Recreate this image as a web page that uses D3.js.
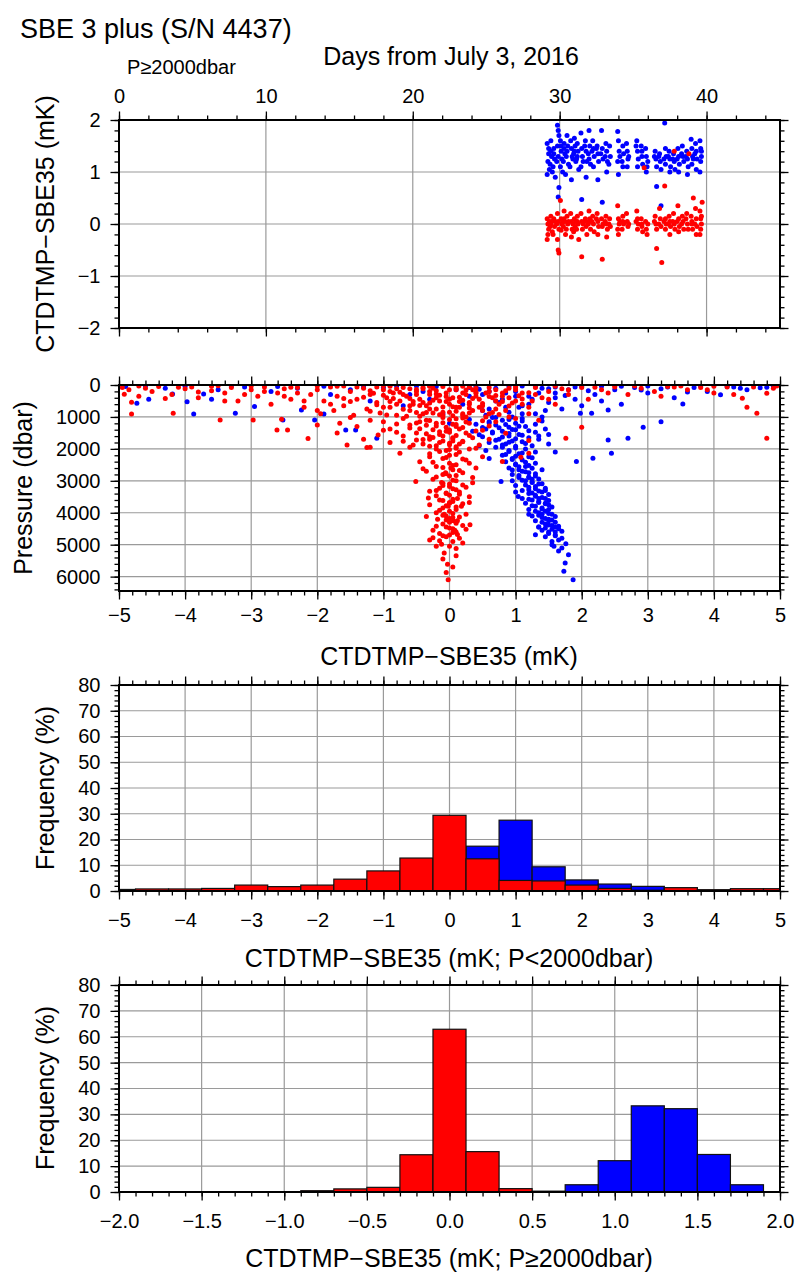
<!DOCTYPE html>
<html>
<head>
<meta charset="utf-8">
<script src="https://cdn.jsdelivr.net/npm/d3@7"></script>
<style>
body { margin: 0; background: #fff; }
svg text { font-family: "Liberation Sans", Arial, Helvetica, sans-serif; fill: #000; }
</style>
</head>
<body>
<svg id="chart" width="798" height="1273"></svg>
<script>
// SBE 3 plus (S/N 4437) comparison with SBE35

// DATA ------------------------------------------
// top panel: [days from July 3 2016, CTDTMP-SBE35 mK], P >= 2000 dbar
const timeBlue = [
  [29.15,1.55],[29.25,1.35],[29.2,1.2],[29.3,1.05],[29.15,0.95],[29.25,1.45],
  [29.4,1.6],[29.45,1.3],[29.35,1.15],[29.5,1.0],[29.4,1.4],
  [29.6,1.45],[29.65,1.25],[29.55,1.1],[29.7,0.9],[29.6,1.35],
  [29.85,1.9],[29.9,1.8],[29.95,1.7],[29.85,1.5],[29.9,1.3],[29.95,0.7],[29.9,0.52],[29.8,1.2],
  [30.05,1.6],[30.1,1.4],[30.15,1.25],[30.05,1.1],[30.2,1.0],[30.1,1.5],
  [30.3,1.55],[30.35,1.35],[30.25,1.2],[30.4,0.95],[30.3,1.45],
  [30.5,1.7],[30.55,1.5],[30.45,1.3],[30.6,1.15],[30.5,1.4],
  [30.75,1.6],[30.8,1.45],[30.85,1.3],[30.7,1.1],[30.8,0.85],[30.9,1.25],
  [31.0,1.65],[31.05,1.5],[30.95,1.35],[31.1,1.2],[31.0,1.4],
  [31.2,1.55],[31.25,1.4],[31.15,1.25],[31.3,1.05],[31.2,1.3],
  [31.45,1.75],[31.5,1.45],[31.55,1.3],[31.45,1.1],[31.5,0.47],[31.6,1.2],
  [31.75,1.6],[31.8,1.4],[31.85,1.2],[31.8,0.9],[31.7,1.5],
  [32.0,1.8],[32.05,1.5],[31.95,1.35],[32.1,1.15],[32.0,1.25],
  [32.25,1.6],[32.3,1.45],[32.35,1.3],[32.3,1.1],[32.2,1.4],
  [32.55,1.5],[32.6,1.35],[32.65,1.2],[32.6,0.85],[32.5,1.45],
  [32.85,1.8],[32.9,1.45],[32.95,1.25],[32.9,0.42],[32.8,1.35],
  [33.15,1.55],[33.2,1.4],[33.25,1.2],[33.2,1.0],[33.1,1.3],
  [33.4,1.5],[33.45,1.3],[33.35,1.15],
  [33.95,1.78],[34.0,1.6],[34.05,1.4],[33.95,1.2],[34.0,0.95],[34.1,1.3],
  [34.3,1.5],[34.35,1.35],[34.25,1.2],[34.3,1.1],
  [34.55,1.55],[34.6,1.4],[34.65,1.25],[34.6,1.1],[34.7,1.3],
  [35.25,1.6],[35.3,1.4],[35.35,1.25],[35.3,1.1],[35.2,1.5],
  [35.55,1.5],[35.6,1.3],[35.65,1.15],[35.6,1.4],
  [35.85,1.45],[35.9,1.3],[35.95,1.1],[35.9,1.0],[36.0,1.2],
  [36.5,1.4],[36.55,1.25],[36.6,1.1],[36.6,0.72],[36.45,1.3],
  [36.8,1.35],[36.85,1.2],[36.9,1.05],[36.9,0.35],[36.75,1.3],
  [37.15,1.94],[37.2,1.45],[37.25,1.3],[37.2,1.15],[37.1,1.25],
  [37.45,1.4],[37.5,1.25],[37.55,1.1],[37.5,1.0],[37.4,1.3],
  [37.75,1.35],[37.8,1.2],[37.85,1.05],[37.7,1.25],
  [38.05,1.45],[38.1,1.3],[38.15,1.15],[38.1,1.0],[38.0,1.25],
  [38.35,1.5],[38.4,1.3],[38.45,1.2],[38.3,1.35],
  [38.65,1.4],[38.7,1.25],[38.75,1.1],[38.7,0.95],[38.6,1.3],
  [38.95,1.63],[39.0,1.45],[39.05,1.3],[39.0,1.15],[39.1,1.25],
  [39.25,1.55],[39.3,1.4],[39.35,1.25],[39.3,1.05],[39.2,1.35],
  [39.55,1.6],[39.6,1.45],[39.65,1.3],[39.6,1.2],[39.55,1.0],[39.65,1.4]
];

const timeRed = [
  [29.15,0.1],[29.2,0.0],[29.25,-0.1],[29.2,-0.2],[29.15,-0.3],[29.3,0.05],
  [29.4,0.15],[29.45,0.05],[29.35,-0.05],[29.5,-0.15],[29.4,0.0],
  [29.6,0.1],[29.65,-0.05],[29.55,-0.2],[29.7,0.05],
  [29.85,0.2],[29.9,0.05],[29.95,-0.1],[29.85,-0.3],[29.9,-0.5],[29.95,-0.56],[29.8,0.0],
  [30.05,0.45],[30.1,0.1],[30.15,0.0],[30.1,-0.12],[30.2,0.05],
  [30.3,0.25],[30.35,0.05],[30.25,-0.05],[30.4,-0.2],[30.3,0.1],
  [30.5,0.15],[30.55,0.0],[30.45,-0.1],[30.6,0.05],
  [30.75,0.2],[30.8,0.05],[30.85,-0.1],[30.8,-0.25],[30.9,0.0],
  [31.0,0.1],[31.05,-0.05],[30.95,-0.15],[31.1,0.05],
  [31.2,0.15],[31.25,0.0],[31.15,-0.1],[31.3,-0.3],[31.2,0.05],
  [31.45,0.2],[31.5,0.05],[31.55,-0.1],[31.5,-0.63],[31.6,0.0],
  [31.75,0.1],[31.8,-0.05],[31.85,-0.2],[31.7,0.05],
  [32.0,0.25],[32.05,0.1],[31.95,0.0],[32.1,-0.1],[32.0,0.05],
  [32.25,0.15],[32.3,0.0],[32.35,-0.15],[32.2,0.05],
  [32.55,0.2],[32.6,0.05],[32.65,-0.05],[32.6,-0.2],[32.5,0.1],
  [32.85,0.1],[32.9,-0.05],[32.9,-0.68],[32.95,0.0],
  [33.15,0.15],[33.2,0.0],[33.25,-0.1],[33.2,-0.25],[33.1,0.05],
  [33.4,0.1],[33.45,-0.05],[33.35,0.0],
  [33.95,0.35],[34.0,0.1],[34.05,0.0],[33.95,-0.1],[34.0,-0.2],[34.1,0.05],
  [34.3,0.15],[34.35,0.0],[34.25,-0.1],[34.3,0.05],
  [34.55,0.2],[34.6,0.05],[34.65,-0.05],[34.7,0.0],
  [35.25,0.25],[35.3,0.1],[35.35,0.0],[35.3,-0.1],[35.2,0.05],
  [35.55,0.1],[35.6,-0.05],[35.65,-0.15],[35.6,0.0],
  [35.75,1.08],
  [35.85,0.05],[35.9,-0.1],[35.95,-0.2],[36.0,0.0],
  [36.5,0.15],[36.55,0.0],[36.6,-0.1],[36.6,-0.47],[36.45,0.05],
  [36.8,0.3],[36.85,0.1],[36.9,-0.05],[36.95,-0.74],[36.75,0.0],
  [37.15,0.73],[37.2,0.1],[37.25,0.0],[37.2,-0.1],[37.1,0.05],
  [37.45,0.15],[37.5,0.05],[37.55,-0.05],[37.5,-0.2],[37.4,0.0],
  [37.8,1.4],[37.75,0.2],[37.8,0.0],[37.85,-0.1],[37.7,0.05],
  [38.05,0.35],[38.1,0.1],[38.15,-0.05],[38.1,-0.15],[38.0,0.05],
  [38.35,0.15],[38.4,0.05],[38.45,-0.1],[38.3,0.0],
  [38.8,1.35],[38.65,0.2],[38.7,0.0],[38.75,-0.1],[38.6,0.1],
  [39.1,0.5],[38.95,0.15],[39.0,0.05],[39.05,-0.1],[39.0,0.0],
  [39.25,0.3],[39.3,0.1],[39.35,-0.05],[39.3,-0.2],[39.2,0.0],
  [39.7,0.42],[39.55,0.25],[39.6,0.1],[39.65,0.0],[39.6,-0.1],[39.55,-0.2],[39.65,0.15]
];

// middle panel: [CTDTMP-SBE35 mK, pressure dbar]
const presBlue = [
  [1.87,6094],[1.73,5833],[1.75,5573],[1.8,5313],[1.58,5052],[1.76,4969],[1.65,5200],[1.55,4900],
  [1.7,4800],[1.45,4750],[1.6,4700],[1.3,4687],[1.5,4600],[1.4,4550],[1.65,4500],[1.35,4450],
  [1.55,4400],[1.45,4350],[1.6,4300],[1.3,4250],[1.5,4200],[1.4,4150],[1.25,4100],[1.55,4050],
  [1.35,4000],[1.45,3950],[1.2,3900],[1.4,3850],[1.3,3800],[1.5,3750],[1.15,3700],[1.35,3650],
  [1.25,3600],[1.45,3550],[1.04,3490],[1.3,3450],[1.2,3400],[1.4,3350],[1.1,3300],[1.3,3250],
  [1.2,3200],[1.0,3150],[1.35,3100],[0.78,3021],[1.15,3000],[1.25,2950],[1.05,2900],[1.3,2850],
  [0.95,2800],[1.2,2750],[1.1,2700],[1.4,2650],[0.9,2600],[1.15,2550],[1.0,2500],[1.3,2450],
  [0.85,2400],[1.92,2396],[1.1,2350],[2.17,2292],[0.95,2300],[1.2,2250],[0.8,2200],[1.05,2150],
  [2.45,2135],[1.3,2100],[0.9,2050],[1.15,2000],[1.45,3300],[1.5,3900],[1.6,4450],[1.35,3550],
  [1.25,3050],[1.05,2650],[1.4,4050],[1.5,4250],[1.45,3700],[1.2,2900],
  [1.05,2560],[1.25,2610],[0.95,2660],[1.15,2720],[1.3,2780],[1.05,2830],[1.2,2880],[1.35,2940],
  [1.1,2980],[1.25,3040],[1.4,3090],[1.15,3130],[1.3,3180],[1.45,3230],[1.2,3280],[1.35,3320],
  [1.25,3380],[1.5,3430],[1.3,3480],[1.4,3520],[1.2,3580],[1.5,3620],[1.35,3680],[1.45,3720],
  [1.25,3780],[1.55,3820],[1.4,3880],[1.3,3950],[1.5,4020],[1.35,4080],[1.6,4120],[1.45,4180],
  [1.55,4230],[1.4,4300],[1.5,4380],[1.65,4420],[1.45,4480],[1.55,4520],[1.7,4580],[1.5,4650],
  [1.6,4720],[1.65,4850],[1.55,5000],[1.7,5100],[1.6,4600],[1.0,3350],[0.95,3000],[1.1,3550],
  [1.2,4050],[1.35,4450],
  [0.7,1950],[1.0,1920],[1.25,1900],[0.85,1850],[0.6,1800],[1.1,1780],[2.4,1719],[0.95,1750],
  [0.75,1700],[2.7,1667],[1.2,1650],[0.5,1620],[0.9,1600],[1.05,1550],[0.65,1500],[1.3,1480],
  [0.8,1450],[-1.57,1406],[-1.42,1406],[1.0,1400],[0.55,1380],[2.93,1323],[0.9,1320],[1.15,1300],
  [0.7,1250],[0.4,1230],[1.0,1200],[0.0,1198],[0.6,1150],[1.4,1130],[0.8,1100],[-2.52,1094],
  [-2.04,1094],[0.3,1080],[1.1,1050],[0.65,1020],[-1.1,1667],[3.2,1150],[1.35,1700],[0.8,1950],
  [1.5,1550],[0.45,1900],
  [0.7,1020],[0.9,1080],[1.1,1130],[0.6,1190],[0.85,1240],[1.05,1290],[0.75,1340],[0.95,1390],
  [1.2,1430],[0.65,1470],[0.9,1520],[1.1,1570],[0.8,1630],[1.0,1680],[0.7,1730],[0.9,1790],
  [1.15,1830],[0.8,1880],[1.0,1970],[0.9,2080],[1.1,2130],[0.85,2180],[1.0,2230],[1.25,2280],
  [0.95,2330],[1.15,2420],[1.0,2470],[1.2,2520],[0.5,1330],[0.45,1560],[1.3,1230],[1.35,1600],
  [0.55,2050],[0.6,2300],[1.5,1850],[1.6,2100],[0.35,1450],[1.45,1380],
  [-4.73,573],[-4.55,448],[-4.19,281],[-3.97,521],[-3.87,906],[-3.72,281],[-3.6,448],[-3.24,885],
  [-2.95,677],[-2.24,781],[-1.9,906],[-4.9,50],[-4.3,100],[-3.5,150],[-3.1,60],[-2.7,200],
  [-2.3,100],[-1.8,300],[-1.5,150],[-1.2,500],[-1.0,80],[-0.7,650],[-0.4,200],[-0.1,900],
  [0.2,600],[0.5,300],[0.6,750],[0.7,100],[0.8,450],[0.9,850],[1.0,200],[1.1,650],
  [1.2,350],[1.3,900],[1.4,100],[1.5,550],[1.6,250],[1.7,750],[1.8,150],[1.9,450],
  [1.98,885],[2.15,885],[2.4,781],[2.0,50],[2.2,300],[2.5,150],[2.6,600],[2.8,80],
  [3.0,250],[3.2,120],[3.4,400],[3.53,594],[3.7,80],[3.9,200],[4.1,302],[4.3,60],
  [4.5,150],[4.7,90],[4.9,40],[0.4,40],[1.1,30],[1.6,60],[2.3,40],[3.0,30],
  [-0.5,30],[0.95,1000],[0.75,550],[1.05,700],[0.85,250],[1.25,450],[0.55,950],[1.45,800],
  [-4.6,30],[-4.0,40],[-3.3,30],[-2.6,50],[-1.9,40],[-1.3,60],[-0.8,30],[-0.2,50],
  [0.3,80],[0.9,40],[1.3,50],[1.9,60],[2.6,40],[3.3,60],[3.8,30],[4.2,50],
  [4.8,70],[0.1,150],[0.6,200],[1.5,120],[2.1,180],[2.9,160],[3.6,220],[4.4,100],
  [0.3,350],[0.7,500],[1.2,600],[1.6,400],[0.5,800],[1.1,900],[-0.3,450],[-0.6,300],
  [2.3,500],[2.0,650],[1.4,1000],[0.85,700],[1.0,350],[1.35,250],[0.45,130],[1.75,330]
];

const presRed = [
  [-0.02,6094],[-0.05,5870],[-0.03,5610],[0.1,5350],[-0.08,5260],[0.0,5050],[-0.2,5052],[-0.12,4990],
  [0.05,4900],[-0.3,4850],[0.15,4800],[-0.05,4750],[0.0,4700],[-0.15,4650],[0.1,4600],[0.31,4375],
  [-0.25,4550],[0.05,4500],[-0.05,4450],[0.2,4400],[-0.1,4350],[0.0,4300],[0.12,4250],[-0.18,4200],
  [0.05,4150],[-0.05,4100],[0.25,4050],[-0.2,4000],[0.0,3950],[0.1,3900],[-0.1,3850],[0.18,3800],
  [-0.3,3750],[0.0,3700],[0.05,3650],[-0.15,3600],[-0.32,3542],[0.3,3500],[0.0,3450],[-0.05,3400],
  [0.15,3350],[-0.2,3300],[0.05,3250],[0.25,3200],[-0.1,3150],[0.0,3100],[-0.51,3021],[0.1,3000],
  [-0.25,2950],[0.35,2900],[0.0,2850],[-0.1,2800],[0.2,2750],[-0.35,2700],[0.05,2650],[0.4,2600],
  [-0.2,2550],[0.1,2500],[0.0,2450],[-0.45,2400],[0.25,2350],[-0.1,2300],[0.5,2250],[0.0,2200],
  [-0.3,2150],[-0.75,2135],[0.15,2100],[-0.05,2050],[0.3,2000],[-0.2,2000],[0.08,4550],[-0.08,4050],
  [0.12,3550],[-0.12,3050],[0.02,2600],[-0.02,3800],[0.06,4250],[-0.06,2750],
  [0.0,2020],[-0.15,2080],[0.1,2180],[-0.05,2270],[0.2,2320],[-0.25,2420],[0.05,2520],[-0.1,2580],
  [0.15,2680],[-0.05,2780],[0.1,2830],[-0.2,2880],[0.05,2980],[-0.1,3080],[0.2,3130],[0.0,3180],
  [-0.15,3230],[0.1,3280],[-0.05,3380],[0.15,3420],[-0.2,3470],[0.05,3580],[-0.1,3620],[0.0,3680],
  [0.2,3720],[-0.05,3780],[0.1,3820],[-0.15,3920],[0.05,4020],[-0.1,4080],[0.15,4130],[0.0,4180],
  [-0.05,4230],[0.1,4330],[-0.2,4420],[0.0,4480],[0.05,4620],[-0.1,4720],[0.12,4680],[-0.15,4880],
  [0.2,4950],[-0.3,2250],[0.3,2450],[-0.4,2620],[0.35,3060],[-0.3,3330],[0.3,3680],[-0.35,4120],
  [0.25,4520],[-0.25,4780],[0.1,5120],[-0.1,5450],[0.05,5700],
  [-1.25,1958],[-1.2,1948],[-0.6,1950],[0.1,1930],[-0.2,1900],[0.45,1880],[-1.55,1875],[-0.4,1850],
  [0.0,1820],[-0.9,1800],[0.2,1780],[1.2,1740],[-0.1,1750],[-0.5,1720],[0.6,1700],[-2.14,1677],
  [1.76,1667],[4.8,1667],[0.05,1650],[-0.3,1620],[-0.7,1600],[0.3,1580],[-1.08,1563],[-0.15,1550],
  [0.85,1510],[-0.5,1500],[0.0,1480],[-2.61,1406],[-2.45,1406],[-1.0,1420],[0.4,1440],[-0.25,1400],
  [0.15,1380],[-0.6,1350],[2.0,1323],[-0.05,1320],[-1.4,1300],[0.6,1280],[-0.35,1260],[0.1,1240],
  [-1.66,1198],[-0.8,1220],[0.3,1200],[-0.1,1180],[-3.47,1094],[-2.97,1094],[-2.54,1073],[-1.2,1100],
  [0.5,1120],[-0.45,1150],[0.0,1080],[-0.7,1050],[0.2,1030],[-1.5,1020],[1.0,1050],[1.2,2135],
  [1.08,2260],[0.8,2396],
  [-0.1,1020],[0.1,1060],[-0.3,1110],[0.25,1160],[-0.5,1190],[0.05,1230],[-0.2,1280],[0.2,1330],
  [-0.45,1370],[0.0,1410],[-0.15,1460],[0.25,1500],[-0.35,1530],[0.1,1580],[-0.25,1640],[0.05,1680],
  [-0.4,1710],[0.2,1760],[-0.15,1800],[0.0,1870],[-0.3,1920],[0.1,1980],[-0.6,1250],[-0.8,1480],
  [-0.7,1760],[0.35,1650],[0.5,1420],[-1.0,1150],[-0.9,1380],[0.4,1980],[-0.55,1880],[-1.3,1700],
  [-1.7,1500],[-2.0,1250],[0.7,1150],
  [-4.81,542],[-4.81,906],[-4.92,292],[-4.18,885],[-4.95,80],[-4.85,150],[-4.6,100],[-4.5,200],
  [-4.4,50],[-4.2,300],[-4.0,120],[-3.9,60],[-3.8,400],[-3.6,180],[-3.4,250],[-3.3,80],
  [-3.2,500],[-3.0,150],[-2.9,350],[-2.8,60],[-2.7,600],[-2.6,250],[-2.5,120],[-2.4,450],
  [-2.3,80],[-2.2,700],[-2.1,300],[-2.0,150],[-1.95,900],[-1.9,500],[-1.8,60],[-1.75,800],
  [-1.7,350],[-1.6,650],[-1.5,200],[-1.45,950],[-1.4,450],[-1.3,100],[-1.25,750],[-1.2,300],
  [-1.1,550],[-1.05,880],[-1.0,150],[-0.95,400],[-0.9,700],[-0.85,250],[-0.8,950],[-0.75,500],
  [-0.7,80],[-0.65,350],[-0.6,800],[-0.55,600],[-0.5,200],[-0.45,450],[-0.4,900],[-0.35,650],
  [-0.3,300],[-0.25,100],[-0.2,750],[-0.15,500],[-0.1,950],[-0.05,250],[0.0,600],[0.0,850],
  [0.05,400],[0.1,150],[0.15,700],[0.2,950],[0.25,300],[0.3,550],[0.35,800],[0.4,100],
  [0.45,450],[0.5,650],[0.55,250],[0.6,900],[0.65,400],[0.7,150],[0.75,600],[0.8,350],
  [0.85,800],[0.9,100],[1.0,500],[1.1,250],[1.2,700],[1.3,80],[1.4,400],[1.5,200],
  [1.6,600],[1.7,120],[1.8,300],[2.0,80],[2.1,450],[2.3,150],[2.5,60],[2.7,300],
  [2.9,100],[3.1,200],[3.3,50],[3.6,150],[3.8,80],[4.0,250],[4.43,417],[4.5,698],
  [4.65,885],[4.8,260],[4.9,100],[4.2,60],[-0.3,30],[0.2,40],[-1.0,20],[1.0,30],
  [-2.0,30],[2.5,20],[3.5,30],[-3.5,20],[-0.6,120],[-0.2,180],[0.3,60],[-0.9,40],
  [0.6,200],[-1.6,30],
  [-0.1,50],[0.1,100],[-0.3,200],[0.2,250],[-0.5,300],[0.4,350],[-0.2,400],[0.0,450],
  [-0.4,550],[0.3,600],[-0.6,650],[0.1,700],[-0.3,750],[0.5,800],[-0.1,850],[0.2,900],
  [-0.8,600],[-1.0,700],[0.7,500],[-0.7,300],[0.8,250],[-0.9,200],[0.6,80],[-0.4,120],
  [0.35,150],[-0.15,320],[0.15,380],[-0.05,520],[0.05,680],[-0.25,880],[-0.45,980],[0.25,1000],
  [-0.35,1100],[-0.2,1200],[0.1,1300],[-0.1,1600],[0.05,1750],[-0.05,1450],[0.15,1850],[-0.3,1700],
  [1.0,150],[0.9,400],[1.1,600],[0.7,750],[1.3,300],[1.5,450],[1.2,900],[1.8,150],[0.9,1000],[1.35,1100],
  [-1.4,60],[-1.2,180],[-1.0,320],[-0.8,120],[-0.6,420],[-0.4,80],[-0.2,280],[0.0,150],
  [0.2,480],[0.4,220],[0.6,360],[0.8,520],[1.0,90],[1.2,240],[-1.3,380],[-1.1,620],
  [-0.9,520],[-0.7,760],[-0.5,860],[-0.3,560],[-0.1,690],[0.1,820],[0.3,720],[0.5,580],
  [0.7,330],[0.9,660],[1.1,440],[-1.5,520],[-1.2,820],[-0.95,940],[-0.65,980],[-0.35,860],
  [-0.15,930],[0.05,960],[0.3,880],[0.55,1000],[0.75,920],[-0.5,140],[-0.3,40],[0.1,30],
  [0.4,260],[0.25,160],[-0.05,360],[-0.45,640],[0.35,420],[0.15,520],[-0.25,480],[-0.75,230],
  [-0.55,520],[0.45,700],[0.65,860],[-0.85,420],[-1.15,260],[1.05,340],[0.85,180],[0.95,560],
  [1.25,500],[-2.5,350],[-2.2,500],[-1.8,600],[-1.6,420],[-2.8,200],[-3.4,500],[-3.8,220],
  [-4.3,420],[-4.7,350],[-2.0,800],
  [-4.7,30],[-4.1,70],[-3.6,40],[-3.0,30],[-2.4,70],[-1.7,40],[-1.1,60],[1.6,40],
  [2.2,70],[2.8,30],[3.4,60],[4.0,40],[4.6,60],[4.95,30],[-3.1,300],[-2.3,250],
  [2.4,250],[3.2,350],[3.9,150],[4.3,300]
];

// histogram, P < 2000 dbar (bin width 0.5 mK)
const histShallowBins = [-5,-4.5,-4,-3.5,-3,-2.5,-2,-1.5,-1,-0.5,0,0.5,1,1.5,2,2.5,3,3.5,4,4.5,5];
const histShallowRed  = [0.6,0.8,0.8,1.0,2.3,1.7,2.3,4.6,7.8,12.8,29.4,12.5,4.1,3.9,2.3,1.0,0.3,1.3,0.5,0.9,0.9];
const histShallowBlue = [0.3,0.5,0.5,0.6,1.2,1.0,1.5,2.5,4.0,7.0,12.0,17.4,27.5,9.4,4.3,2.7,1.8,1.0,0.3,0.6,0.5];

// histogram, P >= 2000 dbar (bin width 0.2 mK)
const histDeepBins = [-2,-1.8,-1.6,-1.4,-1.2,-1,-0.8,-0.6,-0.4,-0.2,0,0.2,0.4,0.6,0.8,1,1.2,1.4,1.6,1.8,2];
const histDeepRed  = [0,0,0,0,0,0.1,0.5,1.2,1.8,14.4,62.9,15.6,1.3,0.3,0,0,0,0,0,0,0];
const histDeepBlue = [0,0,0,0,0,0,0,0,0,0,0,0,0,0.2,2.8,12.1,33.3,32.2,14.5,2.8,0];

// tick values
const dayMajor = [0,10,20,30,40];
const dayMinor = [0,2,4,6,8,10,12,14,16,18,20,22,24,26,28,30,32,34,36,38,40,42,44];
const diffMajor = [-2,-1,0,1,2];
const diffMinor = [-2,-1.8,-1.6,-1.4,-1.2,-1,-0.8,-0.6,-0.4,-0.2,0,0.2,0.4,0.6,0.8,1,1.2,1.4,1.6,1.8,2];
const wideMajor = [-5,-4,-3,-2,-1,0,1,2,3,4,5];
const wideMinor = [-5,-4.8,-4.6,-4.4,-4.2,-4,-3.8,-3.6,-3.4,-3.2,-3,-2.8,-2.6,-2.4,-2.2,-2,-1.8,-1.6,-1.4,-1.2,
  -1,-0.8,-0.6,-0.4,-0.2,0,0.2,0.4,0.6,0.8,1,1.2,1.4,1.6,1.8,2,2.2,2.4,2.6,2.8,3,3.2,3.4,3.6,3.8,4,4.2,4.4,4.6,4.8,5];
const presMajor = [0,1000,2000,3000,4000,5000,6000];
const presMinor = [0,200,400,600,800,1000,1200,1400,1600,1800,2000,2200,2400,2600,2800,3000,3200,3400,3600,3800,
  4000,4200,4400,4600,4800,5000,5200,5400,5600,5800,6000,6200,6400];
const freqMajor = [0,10,20,30,40,50,60,70,80];
const freqMinor = [0,2,4,6,8,10,12,14,16,18,20,22,24,26,28,30,32,34,36,38,40,42,44,46,48,50,52,54,56,58,60,62,64,66,68,70,72,74,76,78,80];
const narrowMajor = [-2,-1.5,-1,-0.5,0,0.5,1,1.5,2];
const narrowMinor = [-2,-1.9,-1.8,-1.7,-1.6,-1.5,-1.4,-1.3,-1.2,-1.1,-1,-0.9,-0.8,-0.7,-0.6,-0.5,-0.4,-0.3,-0.2,-0.1,
  0,0.1,0.2,0.3,0.4,0.5,0.6,0.7,0.8,0.9,1,1.1,1.2,1.3,1.4,1.5,1.6,1.7,1.8,1.9,2];

// CHART INIT ------------------------------------
const svg = d3.select('#chart');
const left = 119, right = 780;
const BLUE = '#0000ff', RED = '#ff0000';
const minus = s => String(s).replace('-', '\u2212');

// panel frame, grid and ticks
function frame(x, y, o) {
  const g = svg.append('g');
  const yt = d3.min(y.range()), yb = d3.max(y.range());
  const id = 'clip' + Math.round(yt);

  svg.append('clipPath').attr('id', id)
    .append('rect')
    .attr('x', left).attr('y', yt)
    .attr('width', right - left).attr('height', yb - yt);

  // grid
  g.selectAll('.gx').data(o.xMajor).enter().append('line')
    .attr('x1', d => x(d)).attr('x2', d => x(d))
    .attr('y1', yt).attr('y2', yb)
    .attr('stroke', '#9a9a9a').attr('stroke-width', 1.2);
  g.selectAll('.gy').data(o.yMajor).enter().append('line')
    .attr('x1', left).attr('x2', right)
    .attr('y1', d => y(d)).attr('y2', d => y(d))
    .attr('stroke', '#9a9a9a').attr('stroke-width', 1.2);

  const plot = svg.append('g').attr('clip-path', `url(#${id})`);

  // ticks on all four sides
  const ax = svg.append('g');
  const make = i => i === 0 ? d3.axisBottom(x) : i === 1 ? d3.axisTop(x) : i === 2 ? d3.axisLeft(y) : d3.axisRight(y);
  const sides = [
    [`translate(0,${yb})`, o.xMajor, o.xMinor],
    [`translate(0,${yt})`, o.xMajor, o.xMinor],
    [`translate(${left},0)`, o.yMajor, o.yMinor],
    [`translate(${right},0)`, o.yMajor, o.yMinor]
  ];
  sides.forEach(([tr, major, minor], i) => {
    ax.append('g').attr('transform', tr)
      .call(make(i).tickValues(minor).tickSize(4.5).tickFormat(''))
      .call(s => s.select('.domain').remove());
    const labelled = (i === 0 && o.xSide === 'bottom') || (i === 1 && o.xSide === 'top') || i === 2;
    const pad = i === 2 ? 10 : o.xPad;
    ax.append('g').attr('transform', tr)
      .call(make(i).tickValues(major).tickSize(8.5).tickPadding(pad)
        .tickFormat(labelled ? (i === 2 ? o.yFmt : o.xFmt) : ''))
      .call(s => s.select('.domain').remove())
      .call(s => s.selectAll('text').attr('font-size', 20).attr('font-family', null));
  });
  ax.selectAll('line').attr('stroke', '#000').attr('stroke-width', 1.3);

  // frame box
  svg.append('rect')
    .attr('x', left).attr('y', yt)
    .attr('width', right - left).attr('height', yb - yt)
    .attr('fill', 'none').attr('stroke', '#000').attr('stroke-width', 2);

  return plot;
}

function dots(plot, data, x, y, color) {
  plot.selectAll(null).data(data).enter().append('circle')
    .attr('cx', d => x(d[0])).attr('cy', d => y(d[1]))
    .attr('r', 2.5).attr('fill', color);
}

function bars(plot, bins, values, width, x, y, color) {
  const [lo, hi] = x.domain();
  plot.selectAll(null).data(bins.map((b, i) => [b, values[i]]).filter(d => d[1] > 0))
    .enter().append('rect')
    .attr('x', d => x(Math.max(lo, d[0] - width / 2)))
    .attr('width', d => x(Math.min(hi, d[0] + width / 2)) - x(Math.max(lo, d[0] - width / 2)))
    .attr('y', d => y(d[1]))
    .attr('height', d => y(0) - y(d[1]))
    .attr('fill', color).attr('stroke', '#111').attr('stroke-width', 1.2);
}

function label(txt, x, y, size, rotate, anchor) {
  svg.append('text')
    .attr('transform', `translate(${x},${y})` + (rotate ? ' rotate(-90)' : ''))
    .attr('text-anchor', anchor || 'middle')
    .attr('font-size', size)
    .text(txt);
}

// PANEL 1: difference vs time -------------------
const xDay = d3.scaleLinear().domain([0, 45]).range([left, right]);
const yDiff = d3.scaleLinear().domain([-2, 2]).range([328, 120]);
const p1 = frame(xDay, yDiff, {
  xMajor: dayMajor, xMinor: dayMinor, yMajor: diffMajor, yMinor: diffMinor,
  xSide: 'top', xPad: 9, xFmt: d => d, yFmt: minus
});
dots(p1, timeBlue, xDay, yDiff, BLUE);
dots(p1, timeRed, xDay, yDiff, RED);

// PANEL 2: difference vs pressure ---------------
const xWide = d3.scaleLinear().domain([-5, 5]).range([left, right]);
const yPres = d3.scaleLinear().domain([0, 6450]).range([385, 591]);
const p2 = frame(xWide, yPres, {
  xMajor: wideMajor, xMinor: wideMinor, yMajor: presMajor, yMinor: presMinor,
  xSide: 'bottom', xPad: 8, xFmt: minus, yFmt: d => d
});
dots(p2, presBlue, xWide, yPres, BLUE);
dots(p2, presRed, xWide, yPres, RED);

// PANEL 3: histogram P < 2000 dbar --------------
const yFreq1 = d3.scaleLinear().domain([0, 80]).range([891, 685]);
const p3 = frame(xWide, yFreq1, {
  xMajor: wideMajor, xMinor: wideMinor, yMajor: freqMajor, yMinor: freqMinor,
  xSide: 'bottom', xPad: 13, xFmt: minus, yFmt: d => d
});
bars(p3, histShallowBins, histShallowBlue, 0.5, xWide, yFreq1, BLUE);
bars(p3, histShallowBins, histShallowRed, 0.5, xWide, yFreq1, RED);

// PANEL 4: histogram P >= 2000 dbar -------------
const xNarrow = d3.scaleLinear().domain([-2, 2]).range([left, right]);
const yFreq2 = d3.scaleLinear().domain([0, 80]).range([1192, 985]);
const p4 = frame(xNarrow, yFreq2, {
  xMajor: narrowMajor, xMinor: narrowMinor, yMajor: freqMajor, yMinor: freqMinor,
  xSide: 'bottom', xPad: 13, xFmt: d => minus(d3.format('.1f')(d)), yFmt: d => d
});
bars(p4, histDeepBins, histDeepBlue, 0.2, xNarrow, yFreq2, BLUE);
bars(p4, histDeepBins, histDeepRed, 0.2, xNarrow, yFreq2, RED);

// TEXT ------------------------------------------
label('SBE 3 plus (S/N 4437)', 20, 38, 27, false, 'start');
label('Days from July 3, 2016', 451, 65, 25);
label('P\u22652000dbar', 127, 74, 20, false, 'start');
label('CTDTMP\u2212SBE35 (mK)', 54, 224, 25, true);
label('Pressure (dbar)', 32, 488, 25, true);
label('CTDTMP\u2212SBE35 (mK)', 449, 665, 25);
label('Frequency (%)', 54, 788, 25, true);
label('CTDTMP\u2212SBE35 (mK; P<2000dbar)', 449, 967, 25);
label('Frequency (%)', 54, 1088, 25, true);
label('CTDTMP\u2212SBE35 (mK; P\u22652000dbar)', 449, 1267, 25);
</script>
</body>
</html>
